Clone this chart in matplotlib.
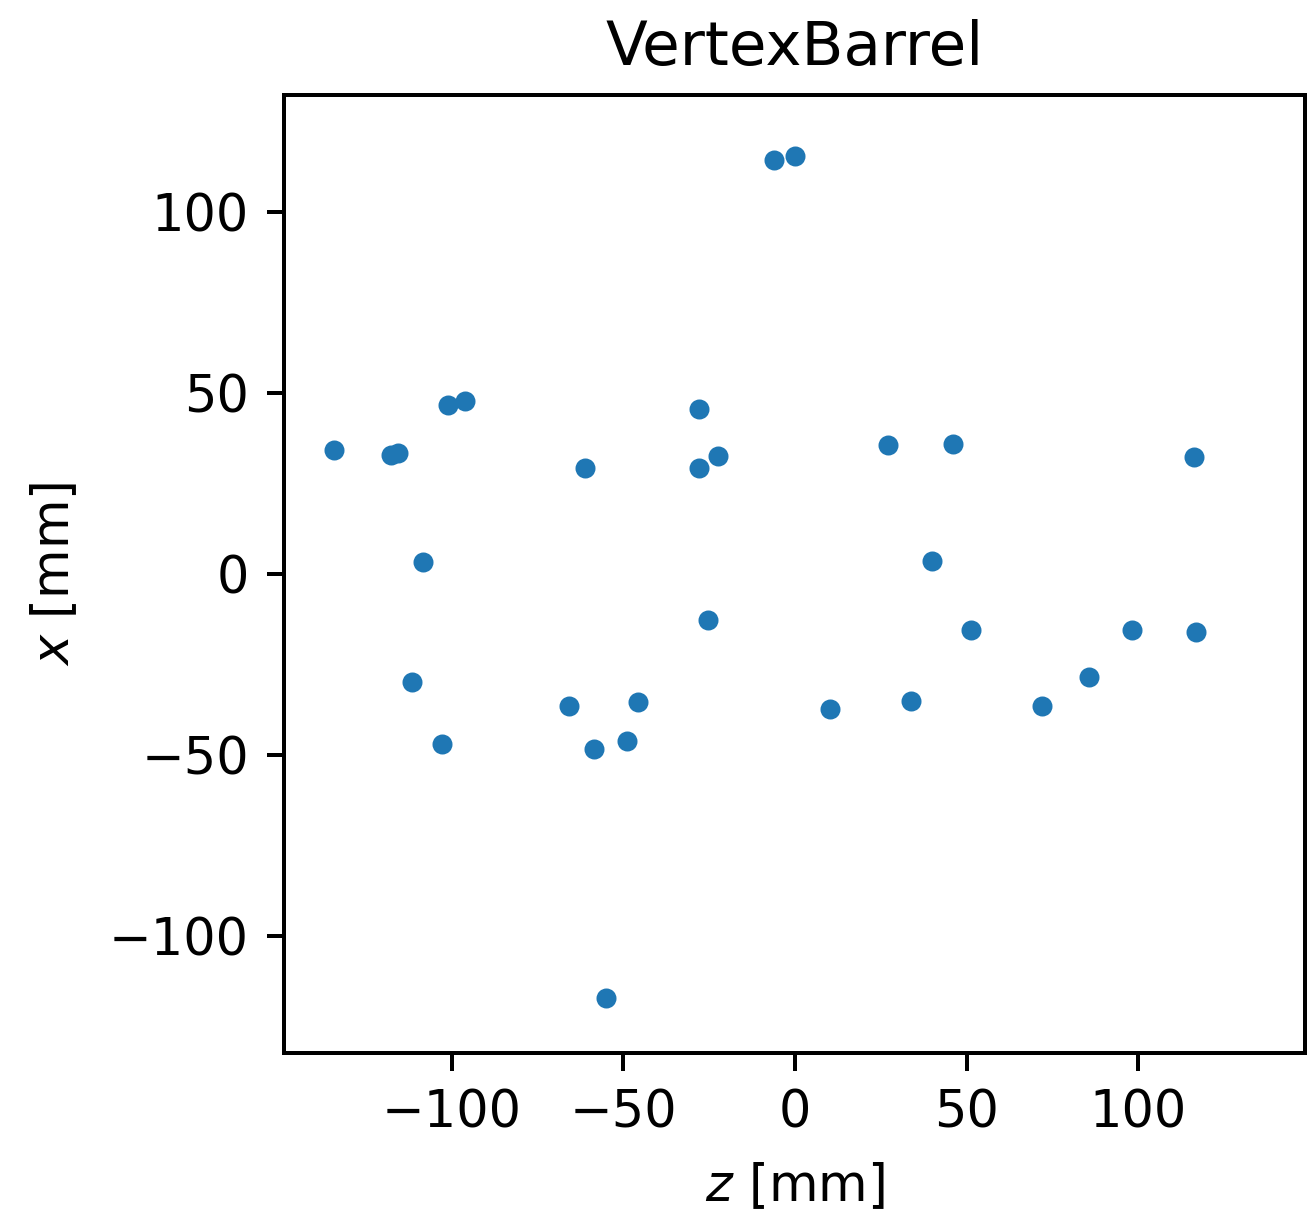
import matplotlib
matplotlib.use("Agg")
import matplotlib.pyplot as plt

# hit positions
z_mm = [-134.1, -117.5, -115.5, -100.9, -96.2, -108.2, -111.4, -102.9,
        -61.2, -65.9, -58.6, -49.0, -45.8, -55.1,
        -28.0, -28.0, -22.4, -25.4, -6.1, 0.0,
        10.2, 27.1, 33.8, 39.9, 46.1, 51.3, 72.0, 85.7, 98.3, 116.3, 116.9]
x_mm = [34.3, 32.9, 33.4, 46.7, 47.8, 3.3, -29.8, -47.0,
        29.3, -36.5, -48.3, -46.1, -35.4, -117.1,
        45.6, 29.3, 32.6, -12.7, 114.4, 115.5,
        -37.3, 35.6, -35.1, 3.6, 35.9, -15.5, -36.5, -28.5, -15.5, 32.3, -16.0]

plt.rcParams["font.size"] = 10.2

DPI = 360
fig = plt.figure(figsize=(1307 / DPI, 1224 / DPI), dpi=DPI)
ax = fig.add_axes([0.2173, 0.1397, 0.7812, 0.7827])

ax.scatter(z_mm, x_mm, s=9, color="#1f77b4")
ax.set_xlim(-148.8, 148.6)
ax.set_ylim(-132.2, 132.3)
ax.set_xlabel("$z$ [mm]", labelpad=4.6)
ax.set_ylabel("$x$ [mm]", labelpad=5.8)
ax.set_title("VertexBarrel")

fig.savefig("out.png", dpi=DPI)
